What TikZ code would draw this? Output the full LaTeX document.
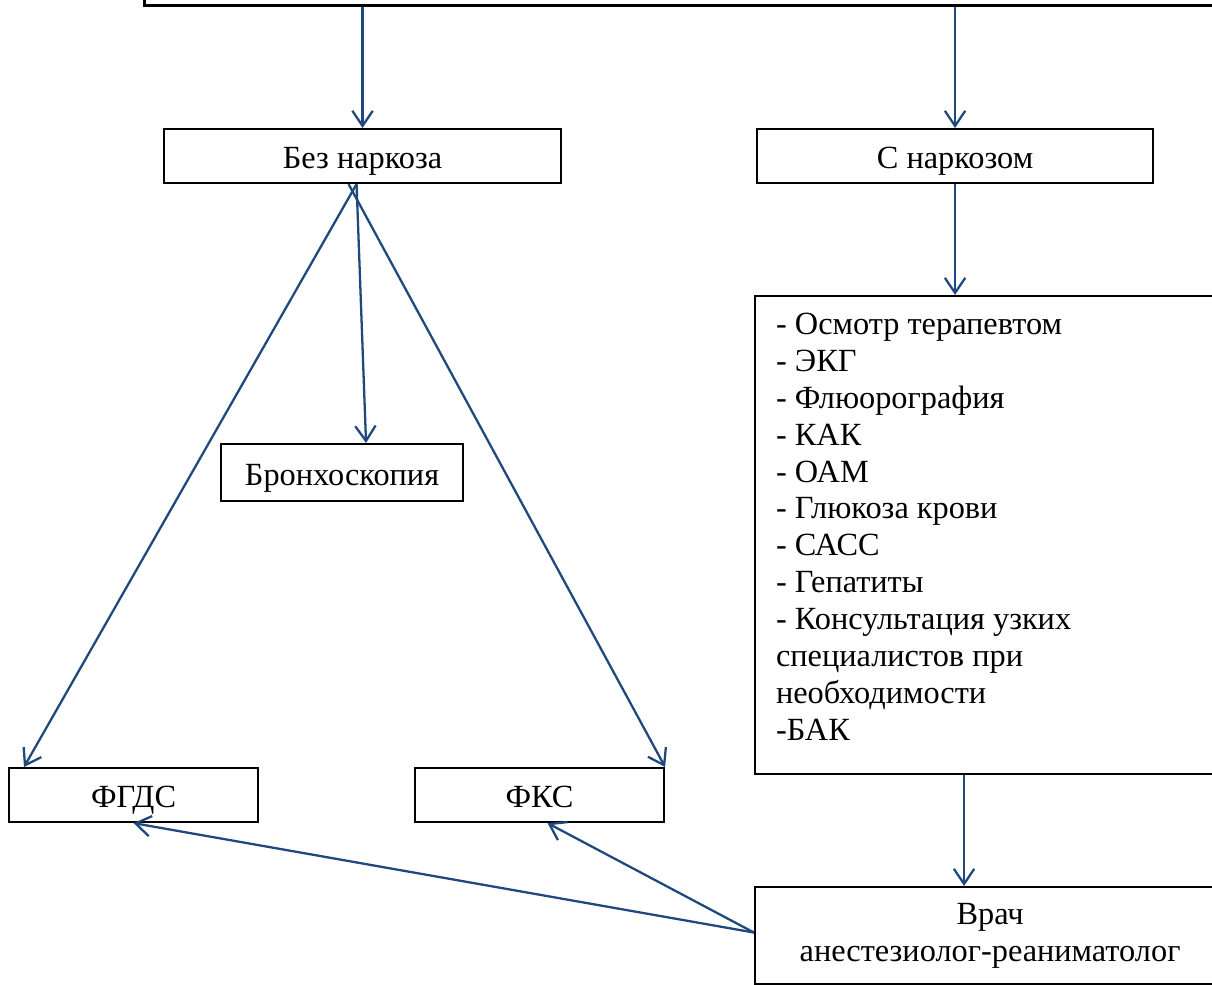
\documentclass[tikz,border=0pt]{standalone}
\usepackage{fontspec}
\setmainfont{Liberation Serif}
\usetikzlibrary{arrows.meta, positioning}
\definecolor{linkblue}{RGB}{31,73,125}
\tikzset{
    block/.style={rectangle, draw=black, line width=0.6pt, inner sep=0pt, text centered, anchor=north west, font=\fontsize{9.2}{10.5}\selectfont},
    single/.style={block, text height=7.3pt, text depth=0pt},
    arrow/.style={draw=linkblue, line width=0.65pt, -{Straight Barb[length=4.3pt, width=5.8pt]}},
}

\begin{document}
\begin{tikzpicture}
    \useasboundingbox (0,0) rectangle (12.12,-9.85);
    \clip (0,0) rectangle (12.12,-9.85);

    \node [block, anchor=south west, line width=0.85pt, minimum width=11cm, minimum height=1cm] (top) at (1.43,-0.07) {};

    \node [single, minimum width=3.97cm, minimum height=0.54cm] (bez) at (1.63,-1.28) {Без наркоза};
    \node [single, minimum width=3.96cm, minimum height=0.54cm] (s) at (7.56,-1.28) {С наркозом};

    \node [block, minimum width=4.7cm, minimum height=4.78cm, inner xsep=0.21cm, inner ysep=0.17cm] (exams) at (7.54,-2.95)
        {\begin{minipage}[t][4.44cm][t]{4.28cm}\raggedright
        - Осмотр терапевтом\\
        - ЭКГ\\
        - Флюорография\\
        - КАК\\
        - ОАМ\\
        - Глюкоза крови\\
        - САСС\\
        - Гепатиты\\
        - Консультация узких\\
        специалистов при\\
        необходимости\\
        -БАК
        \end{minipage}};

    \node [single, minimum width=2.42cm, minimum height=0.57cm] (bronch) at (2.20,-4.43) {Бронхоскопия};
    \node [single, minimum width=2.49cm, minimum height=0.54cm] (fgds) at (0.08,-7.67) {ФГДС};
    \node [single, minimum width=2.49cm, minimum height=0.54cm] (fks) at (4.14,-7.67) {ФКС};

    \node [block, minimum width=4.7cm, minimum height=0.97cm, align=center] (vrach) at (7.54,-8.86) {Врач\\анестезиолог-реаниматолог};

    \draw [arrow] (bez.north |- top.south) -- (bez.north);
    \draw [arrow] (s.north |- top.south) -- (s.north);
    \draw [arrow] (s.south) -- (s.south |- exams.north);
    \draw [arrow] ([xshift=-0.26cm]exams.south) -- ([xshift=-0.26cm]exams.south |- vrach.north);

    \draw [arrow] ([xshift=-0.06cm]bez.south) -- ([xshift=0.16cm]fgds.north west);
    \draw [arrow] ([xshift=-0.06cm]bez.south) -- ([xshift=0.24cm]bronch.north);
    \draw [arrow] ([xshift=-0.14cm]bez.south) -- (fks.north east);

    \draw [arrow] ([yshift=0.03cm]vrach.west) -- (fgds.south);
    \draw [arrow] ([yshift=0.03cm]vrach.west) -- ([xshift=0.08cm]fks.south);
\end{tikzpicture}
\end{document}
